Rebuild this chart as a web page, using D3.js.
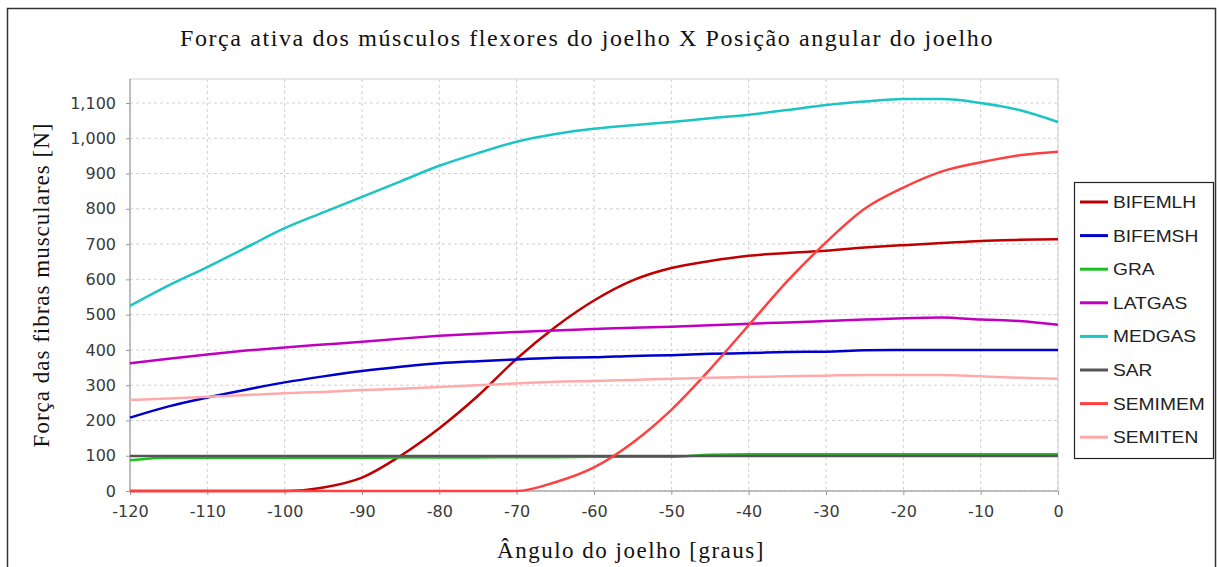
<html>
<head>
<title>Forca ativa</title>
<script type="text/javascript" src="https://cdn.jsdelivr.net/npm/d3@7"></script>
<style type="text/css">
body { margin:0; background:white; }
.grid line { stroke:#d0d0d0; stroke-dasharray:3,3; }
.tk text { font-family:"DejaVu Sans", sans-serif; font-size:16px; fill:#3a3a3a; }
.tk line, .tk path { stroke:#999; }
.serif { font-family:"Liberation Serif","Times New Roman",serif; fill:#111; }
</style>
</head>
<body>
<script>

  // angulo do joelho (graus)
  var angles = [-120,-115,-110,-105,-100,-95,-90,-85,-80,-75,-70,-65,-60,-55,-50,-45,-40,-35,-30,-25,-20,-15,-10,-5,0];

  var muscles = ["BIFEMLH","BIFEMSH","GRA","LATGAS","MEDGAS","SAR","SEMIMEM","SEMITEN"];
  var colors  = ["#c00000","#0000cc","#1fbf1f","#c000c0","#1cc4c4","#555555","#ff4040","#ffaaaa"];

  var bifemlh = [0,0,0,0,0,10,38,100,178,270,375,465,540,597,632,652,667,675,681,690,697,703,709,712,714];
  var bifemsh = [208,240,265,287,308,325,340,352,362,368,373,378,379,383,385,389,391,394,395,399,400,400,400,400,400];
  var gra     = [87,94,94,94,94,94,94,95,95,95,96,96,97,97,97,103,104,104,104,104,104,104,104,104,104];
  var latgas  = [362,375,387,398,407,415,423,432,440,446,451,455,459,463,466,470,474,478,482,486,490,492,486,482,471];
  var medgas  = [525,583,635,690,745,790,834,878,922,958,990,1012,1027,1037,1046,1057,1067,1080,1094,1104,1111,1111,1100,1080,1046];
  var sar     = [99,99,99,99,99,99,99,99,99,99,99,99,99,99,99,99,99,99,99,99,99,99,99,99,99];
  var semimem = [0,0,0,0,0,0,0,0,0,0,0,25,67,137,230,345,470,595,705,800,860,906,932,952,962];
  var semiten = [258,262,267,272,277,281,286,290,295,300,305,310,312,315,318,321,323,325,327,329,329,329,325,321,318];

  var series = [bifemlh,bifemsh,gra,latgas,medgas,sar,semimem,semiten];

  var xTicks = d3.range(-120,1,10),
      yTicks = d3.range(0,1101,100);

  var svg = d3.select("body").append("svg").attr("width",1219).attr("height",567);

  // moldura
  svg.append("rect").attr("x",7.5).attr("y",8.5).attr("width",1208).attr("height",620)
    .attr("fill","white").attr("stroke","#333").attr("stroke-width",1.5);

  var x = d3.scaleLinear().domain([-120,0]).range([130,1058]);
  var y = d3.scaleLinear().domain([0,1100]).range([491,103]);
  var yTop = y.invert(79);

  // grade
  var grid = svg.append("g").attr("class","grid");
  grid.selectAll(".gx").data(xTicks).enter().append("line").attr("class","gx")
    .attr("x1",function(d){ return x(d);}).attr("x2",function(d){ return x(d);})
    .attr("y1",y(yTop)).attr("y2",y(0));
  grid.selectAll(".gy").data(yTicks).enter().append("line").attr("class","gy")
    .attr("x1",x(-120)).attr("x2",x(0))
    .attr("y1",function(d){ return y(d);}).attr("y2",function(d){ return y(d);});

  // borda da area
  svg.append("rect").attr("x",x(-120)).attr("y",y(yTop)).attr("width",x(0)-x(-120)).attr("height",y(0)-y(yTop))
    .attr("fill","none").attr("stroke","#cfcfcf");

  var fmt = d3.format(",");
  svg.append("g").attr("class","tk").attr("transform","translate(0,"+y(0)+")")
    .call(d3.axisBottom(x).tickValues(xTicks).tickSize(4).tickPadding(8).tickSizeOuter(0)
      .tickFormat(function(d){ return String(d);}))
    .selectAll("text").attr("dy","0.85em");
  svg.append("g").attr("class","tk").attr("transform","translate("+x(-120)+",0)")
    .call(d3.axisLeft(y).tickValues(yTicks).tickSize(4).tickPadding(10).tickSizeOuter(0).tickFormat(fmt));
  svg.selectAll(".tk .domain").attr("d",null);
  svg.append("line").attr("x1",x(-120)).attr("x2",x(-120)).attr("y1",y(yTop)).attr("y2",y(0)).attr("stroke","#999");
  svg.append("line").attr("x1",x(-120)).attr("x2",x(0)).attr("y1",y(0)).attr("y2",y(0)).attr("stroke","#999");

  var line = d3.line().x(function(d,i){ return x(angles[i]);}).y(function(d){ return y(d);}).curve(d3.curveMonotoneX);

  svg.selectAll(".serie").data(series).enter().append("path").attr("class","serie")
    .attr("d",line).attr("fill","none").attr("stroke",function(d,i){ return colors[i];})
    .attr("stroke-width",2.5).attr("stroke-linejoin","round");

  // legenda
  var leg = svg.append("g");
  leg.append("rect").attr("x",1074.5).attr("y",182.5).attr("width",139).attr("height",276)
    .attr("fill","white").attr("stroke","#222").attr("stroke-width",1.2);
  var item = leg.selectAll(".item").data(muscles).enter().append("g").attr("class","item")
    .attr("transform",function(d,i){ return "translate(1080,"+(202+i*33.6)+")";});
  item.append("line").attr("x1",0).attr("x2",28).attr("y1",0).attr("y2",0)
    .attr("stroke",function(d,i){ return colors[i];}).attr("stroke-width",3);
  item.append("text").text(function(d){ return d;}).attr("transform","translate(33,6) scale(1.2,1)")
    .attr("font-family","Liberation Sans, Arial, sans-serif").attr("font-size",16).attr("fill","#222");

  // titulos
  svg.append("text").attr("class","serif").text("Força ativa dos músculos flexores do joelho X Posição angular do joelho")
    .attr("x",587).attr("y",46).attr("text-anchor","middle").attr("font-size",24).attr("letter-spacing","1.6px");
  svg.append("text").attr("class","serif").text("Ângulo do joelho [graus]")
    .attr("x",631).attr("y",558).attr("text-anchor","middle").attr("font-size",23).attr("letter-spacing","1.5px");
  svg.append("text").attr("class","serif").text("Força das fibras musculares [N]")
    .attr("transform","translate(49,285) rotate(-90)").attr("text-anchor","middle").attr("font-size",23).attr("letter-spacing","1px");

</script>
</body>
</html>
